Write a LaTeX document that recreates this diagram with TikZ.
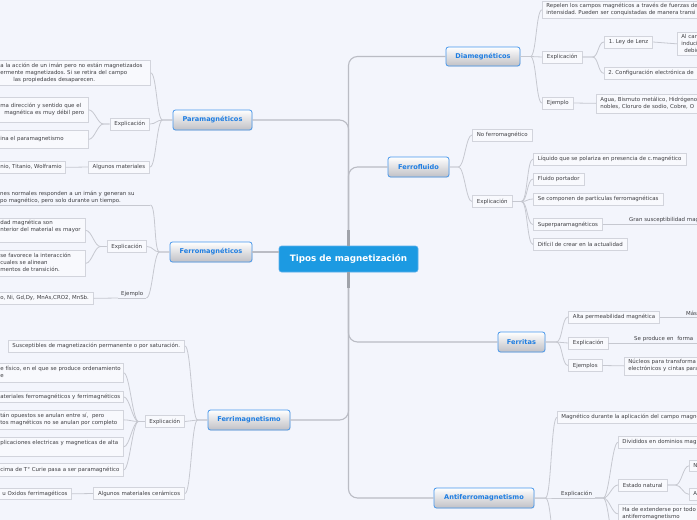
\documentclass[tikz,border=0pt]{standalone}
\usepackage{fontspec}
\setmainfont{DejaVu Sans}
\frenchspacing
\usetikzlibrary{shadows}
\definecolor{bg}{RGB}{243,245,252}
\definecolor{boxc}{RGB}{210,212,220}
\definecolor{boxf}{RGB}{248,249,253}
\definecolor{lnc}{RGB}{198,200,208}
\definecolor{trk}{RGB}{186,188,196}
\definecolor{stub}{RGB}{160,163,170}
\definecolor{txt}{RGB}{62,62,66}
\definecolor{ttl}{RGB}{30,125,225}
\definecolor{ttb}{RGB}{70,150,235}
\definecolor{lvb}{RGB}{192,192,197}
\definecolor{rootf}{RGB}{28,154,226}
\definecolor{rootb}{RGB}{90,175,235}
\newcommand\leaffont{\fontsize{5.45}{7}\selectfont\frenchspacing}
\newcommand\lvfont{\fontsize{6.6}{8}\selectfont\bfseries}
\newcommand\rootfont{\fontsize{8.8}{10}\selectfont\bfseries}
\newcommand\fixbox[6]{%
  \pgfmathsetmacro\FbW{#4-(#2)}%
  \pgfmathsetmacro\FbH{#5-(#3)}%
  \pgfmathsetmacro\FbT{#4-(#2)-8}%
  \node[fbox,anchor=north west,minimum width=\FbW pt,minimum height=\FbH pt,text width=\FbT pt] (#1) at (#2,#3) {\begin{tabular}{@{}l@{}}#6\end{tabular}};}
\begin{document}
\begin{tikzpicture}[x=1pt,y=-1pt,
  conn/.style={draw=lnc,line width=0.8pt},
  trunk/.style={draw=trk,line width=1.1pt,rounded corners=9pt},
  rl/.style={to path={-- ++(#1,0) .. controls +(6,0) and +(-6,0) .. (\tikztotarget)}}, rl/.default=10,
  ll/.style={to path={-- ++(-#1,0) .. controls +(-6,0) and +(6,0) .. (\tikztotarget)}}, ll/.default=10,
  leaf/.style={draw=boxc,fill=boxf,line width=0.7pt,font=\leaffont,text=txt,inner xsep=4.5pt,inner ysep=1pt,minimum height=12pt},
  fbox/.style={leaf,inner xsep=4pt,align=left},
  utext/.style={font=\leaffont,text=txt,inner xsep=3pt,inner ysep=1.5pt,align=left},
  lvl/.style={draw=ttb,line width=0.8pt,rounded corners=2.5pt,top color=white,bottom color=lvb,font=\lvfont,text=ttl,minimum height=20pt,inner sep=0pt,drop shadow={opacity=0.12,shadow xshift=0.6pt,shadow yshift=-0.8pt}},
  rootn/.style={draw=rootb,line width=0.6pt,fill=rootf,rounded corners=2.5pt,font=\rootfont,text=white,inner sep=0pt}
]
\useasboundingbox (0,0) rectangle (697,520);
\clip (0,0) rectangle (697,520);
\fill[bg] (0,0) rectangle (697,520);

% root and main topics
\node[rootn,minimum width=139pt,minimum height=26pt] (root) at (348.5,259) {Tipos de magnetización};
\node[lvl,minimum width=79pt] (para) at (212.5,120) {Paramagnéticos};
\node[lvl,minimum width=82pt] (ferro) at (211,252) {Ferromagnéticos};
\node[lvl,minimum width=82pt] (ferri) at (249,420) {Ferrimagnetismo};
\node[lvl,minimum width=74pt,minimum height=19pt] (dia) at (483,56.5) {Diamegnéticos};
\node[lvl,minimum width=61pt] (fluido) at (418.5,167) {Ferrofluido};
\node[lvl,minimum width=47pt] (ferritas) at (521.5,342) {Ferritas};
\node[lvl,minimum width=100pt] (anti) at (484,498) {Antiferromagnetismo};

% Paramagneticos
\fixbox{p1}{-4}{60}{150}{85}{a la acción de un imán pero no están magnetizados\\ermente magnetizados. Si se retira del campo\\\hspace*{13pt}las propiedades desaparecen.}
\node[leaf,anchor=east] (pexp) at (150,124) {Explicación};
\fixbox{p2}{-4}{97}{88}{122}{ma dirección y sentido que el\\\hspace*{4pt}magnética es muy débil pero}
\fixbox{p3}{-4}{130}{88}{148}{ina el paramagnetismo}
\node[leaf,anchor=east] (palg) at (150,167) {Algunos materiales};
\fixbox{palgc}{-4}{161}{65}{173}{nio, Titanio, Wolframio}

% Ferromagneticos
\node[utext,anchor=south west,text width=147pt] (f1) at (-3,205) {nes normales responden a un imán y generan su\\po magnético, pero solo durante un tiempo.};
\node[leaf,anchor=east] (fexp) at (147,246.5) {Explicación};
\fixbox{fa}{-4}{218}{85}{242}{dad magnética son\\nterior del material es mayor\\\mbox{}}
\fixbox{fb}{-4}{250}{85}{276}{se favorece la interacción\\cuales se alinean\\mentos de transición.}
\node[utext,anchor=south west] (fej) at (118,298) {Ejemplo};
\fixbox{fejc}{-4}{292}{93}{304}{o, Ni, Gd,Dy, MnAs,CRO2, MnSb.}

% Ferrimagnetismo
\node[leaf,anchor=east] (fr1) at (185,346) {Susceptibles de magnetización permanente o por saturación.};
\node[leaf,anchor=east] (frexp) at (185,421.5) {Explicación};
\fixbox{fra}{-4}{363}{123}{382}{e físico, en el que se produce ordenamiento\\e}
\fixbox{frb}{-4}{391}{123}{402}{ateriales ferromagnéticos y ferrimagnéticos}
\fixbox{frc}{-4}{410}{123}{429}{tán opuestos se anulan entre sí,\ \ pero\\tos magnéticos no se anulan por completo}
\fixbox{frd}{-4}{437}{123}{456}{plicaciones electricas y magneticas de alta\\\mbox{}}
\fixbox{fre}{-4}{463}{123}{476}{cima de T° Curie pasa a ser paramagnético}
\node[leaf,anchor=east] (fralg) at (185,493.5) {Algunos materiales cerámicos};
\fixbox{fralgc}{-4}{488}{71}{499}{\hspace*{2pt}u Oxidos ferrimagéticos}

% Diamegneticos
\fixbox{d1}{542}{1}{800}{18}{Repelen los campos magnéticos a través de fuerzas de\\intensidad. Pueden ser conquistadas de manera transi}
\node[leaf,anchor=west] (dexp) at (542,57) {Explicación};
\node[leaf,anchor=west] (dlenz) at (604,42) {1. Ley de Lenz};
\fixbox{dlenzc}{677}{32}{800}{52}{\hspace*{0pt}Al cam\\induci\\\hspace*{3pt}debid}
\fixbox{dconf}{604}{67}{800}{79}{2. Configuración electrónica de}
\node[leaf,anchor=west] (dej) at (542,103) {Ejemplo};
\fixbox{dejc}{596}{93.5}{800}{112.5}{Agua, Bismuto metálico, Hidrógeno,\\nobles, Cloruro de sodio, Cobre, O}

% Ferrofluido
\node[leaf,anchor=west] (fl1) at (472,135) {No ferromagnético};
\node[leaf,anchor=west] (flexp) at (472,201.5) {Explicación};
\node[leaf,anchor=west] (fla) at (533,159) {Líquido que se polariza en presencia de c.magnético};
\node[leaf,anchor=west] (flb) at (533,179) {Fluido portador};
\node[leaf,anchor=west] (flc) at (533,199) {Se componen de partículas ferromagnéticas};
\node[leaf,anchor=west] (fld) at (533,224.5) {Superparamagnéticos};
\node[utext,anchor=south west,text width=110pt] (fldc) at (626,224.5) {Gran susceptibilidad mag};
\node[leaf,anchor=west] (fle) at (533,244.5) {Difícil de crear en la actualidad};

% Ferritas
\node[leaf,anchor=west] (fta) at (568,317) {Alta permeabilidad magnética};
\node[utext,anchor=south west,text width=30pt] (ftac) at (683,317) {Más};
\node[leaf,anchor=west] (ftexp) at (568,343) {Explicación};
\node[utext,anchor=south west,text width=90pt] (ftexpc) at (631,343) {Se produce en\ \ forma};
\node[leaf,anchor=west] (ftej) at (568,365.5) {Ejemplos};
\fixbox{ftejc}{624}{356.5}{800}{374.5}{Núcleos para transforma\\electrónicos y cintas para}

% Antiferromagnetismo
\fixbox{aa}{557}{411}{800}{423}{Magnético durante la aplicación del campo magne}
\node[utext,anchor=south west] (aexp) at (558,498) {Explicación};
\coordinate (am) at (557,548);
\fixbox{ab}{618}{436}{800}{448}{Divididos en dominios mag}
\node[leaf,anchor=west] (ac) at (618,485) {Estado natural};
\fixbox{ac1}{689}{460}{800}{471}{N}
\fixbox{ac2}{689}{488}{800}{500}{A}
\fixbox{ad}{618}{504}{800}{523}{Ha de extenderse por todo\\antiferromagnetismo}
\coordinate (axm) at (618,562);

% trunk connectors
\draw[trunk] (root.north) |- (para.east);
\draw[trunk] (root.north) |- (dia.west);
\draw[trunk] (root.north) |- (fluido.west);
\draw[trunk] (root.south) |- (ferri.east);
\draw[trunk] (root.south) |- (ferritas.west);
\draw[trunk] (root.south) |- (anti.west);
\draw[trunk] (ferro.east) -- (ferro.east -| root.west);
\draw[draw=stub,line width=2.4pt] (root.north) -- ++(0,-16);
\draw[draw=stub,line width=2.4pt] (root.south) -- ++(0,16);

% Paramagneticos connectors
\draw[conn] (para.west) to[ll] (p1.east);
\draw[conn] (para.west) to[ll] (pexp.east);
\draw[conn] (para.west) to[ll] (palg.east);
\draw[conn] (pexp.west) to[ll=6] (p2.east);
\draw[conn] (pexp.west) to[ll=6] (p3.east);
\draw[conn] (palg.west) -- (palgc.east);

% Ferromagneticos connectors
\draw[conn] (ferro.west) to[ll] (f1.south east);
\draw[conn] (f1.south west) -- (f1.south east);
\draw[conn] (ferro.west) to[ll] (fexp.east);
\draw[conn] (ferro.west) to[ll] (fej.south east);
\draw[conn] (fej.south west) -- (fej.south east);
\draw[conn] (fej.south west) -- (fejc.east);
\draw[conn] (fexp.west) to[ll=6] (fa.east);
\draw[conn] (fexp.west) to[ll=6] (fb.east);

% Ferrimagnetismo connectors
\draw[conn] (ferri.west) to[ll] (fr1.east);
\draw[conn] (ferri.west) to[ll] (frexp.east);
\draw[conn] (ferri.west) to[ll] (fralg.east);
\foreach \c in {fra,frb,frc,frd,fre} \draw[conn] (frexp.west) to[ll=6] (\c.east);
\draw[conn] (fralg.west) -- (fralgc.east);

% Diamegneticos connectors
\draw[conn] (dia.east) to[rl] (d1.west);
\draw[conn] (dia.east) to[rl] (dexp.west);
\draw[conn] (dia.east) to[rl] (dej.west);
\draw[conn] (dexp.east) to[rl] (dlenz.west);
\draw[conn] (dexp.east) to[rl] (dconf.west);
\draw[conn] (dlenz.east) -- (dlenzc.west);
\draw[conn] (dej.east) -- (dejc.west);

% Ferrofluido connectors
\draw[conn] (fluido.east) to[rl=9] (fl1.west);
\draw[conn] (fluido.east) to[rl=9] (flexp.west);
\foreach \c in {fla,flb,flc,fld,fle} \draw[conn] (flexp.east) to[rl=9] (\c.west);
\draw[conn] (fld.east) -- (fldc.south west);
\draw[conn] (fldc.south west) -- (fldc.south east);

% Ferritas connectors
\draw[conn] (ferritas.east) to[rl=11] (fta.west);
\draw[conn] (ferritas.east) to[rl=11] (ftexp.west);
\draw[conn] (ferritas.east) to[rl=11] (ftej.west);
\draw[conn] (fta.east) -- (ftac.south west);
\draw[conn] (ftac.south west) -- (ftac.south east);
\draw[conn] (ftexp.east) -- (ftexpc.south west);
\draw[conn] (ftexpc.south west) -- (ftexpc.south east);
\draw[conn] (ftej.east) -- (ftejc.west);

% Antiferromagnetismo connectors
\draw[conn] (anti.east) to[rl=11] (aa.west);
\draw[conn] (anti.east) to[rl=11] (aexp.south west);
\draw[conn] (anti.east) to[rl=11] (am);
\draw[conn] (aexp.south west) -- (aexp.south east);
\foreach \c in {ab,ac,ad} \draw[conn] (aexp.south east) to[rl=8] (\c.west);
\draw[conn] (aexp.south east) to[rl=8] (axm);
\draw[conn] (ac.east) to[rl=8] (ac1.west);
\draw[conn] (ac.east) to[rl=8] (ac2.west);
\end{tikzpicture}
\end{document}
